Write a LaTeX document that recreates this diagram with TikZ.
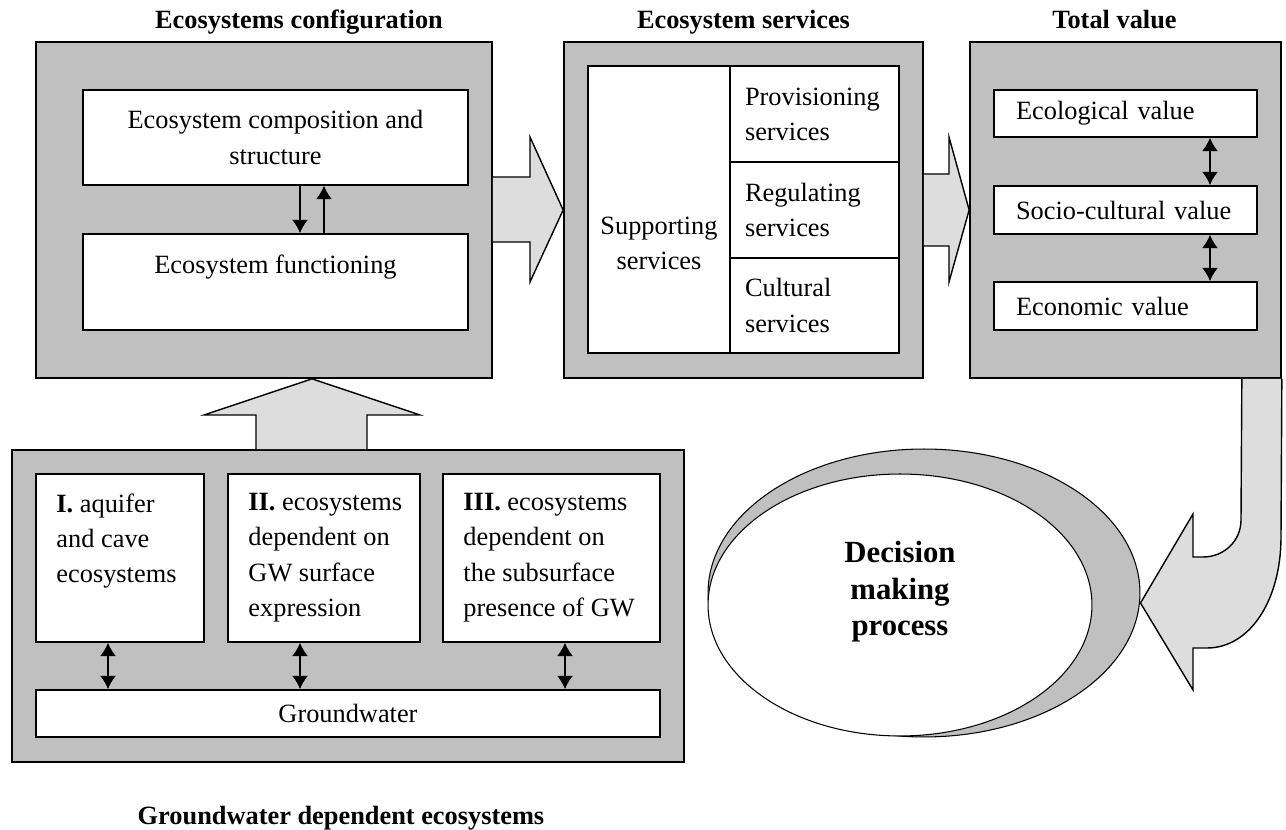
\documentclass[tikz,border=0pt]{standalone}
\usepackage{fontspec}
\setmainfont{Liberation Serif}
\usetikzlibrary{arrows.meta,shapes.geometric,calc}
\definecolor{panelgray}{RGB}{192,192,192}
\definecolor{arrowgray}{RGB}{221,221,221}
\tikzset{
  panel/.style={draw, line width=1pt, fill=panelgray, inner sep=0pt},
  wbox/.style={draw, line width=1pt, fill=white, align=center, inner sep=0pt},
  lbox/.style={wbox, align=left},
  gtext/.style={anchor=north west, align=left, inner sep=0pt},
  headline/.style={font=\fontsize{15}{20}\selectfont\bfseries, anchor=base},
  barrow/.style={draw, line width=.8pt, fill=arrowgray, line join=miter},
  link/.style={<->, line width=.8pt},
}

\begin{document}
\begin{tikzpicture}[x=.02cm,y=-.02cm,>={Latex[length=7.5pt,width=9pt]},
                    font=\fontsize{15}{20}\selectfont]
    \useasboundingbox (0,0) rectangle (1286,830);

    % ecosystems configuration
    \node [panel, minimum width=9.12cm, minimum height=6.72cm] (eco) at (264,210) {};
    \node [wbox, minimum width=7.7cm, minimum height=1.9cm] (ecs) at (275.5,137.5)
          {Ecosystem composition and\\structure};
    \node [wbox, minimum width=7.7cm, minimum height=1.92cm] (efn) at (275.5,282)
          {Ecosystem functioning\\~};
    \draw [->,line width=.8pt] ([xshift=.49cm]ecs.south) -- ([xshift=.49cm]efn.north);
    \draw [<-,line width=.8pt] ([xshift=.97cm]ecs.south) -- ([xshift=.97cm]efn.north);

    % ecosystem services
    \node [panel, minimum width=7.18cm, minimum height=6.72cm] (srv) at (743.5,210) {};
    \node [wbox, minimum width=2.84cm, minimum height=5.74cm] (sup) at (659,209.5) {};
    \node [align=center] (supt) at (659,243) {Supporting\\services};
    \node [lbox, text width=2.78cm, inner xsep=.3cm, minimum height=1.92cm] (prv)
          at (814.5,114) {Provisioning\\services};
    \node [lbox, text width=2.78cm, inner xsep=.3cm, minimum height=1.92cm] (reg)
          at (814.5,210) {Regulating\\services};
    \node [lbox, text width=2.78cm, inner xsep=.3cm, minimum height=1.9cm] (cul)
          at (814.5,305.5) {Cultural\\services};

    % total value
    \node [panel, minimum width=6.22cm, minimum height=6.72cm] (tv) at (1125.5,210) {};
    \node [lbox, text width=4.38cm, inner xsep=.44cm, minimum height=.94cm] (eclv)
          at (1125.5,113.5) {Ecological value};
    \node [lbox, text width=4.38cm, inner xsep=.44cm, minimum height=.96cm] (socv)
          at (1125.5,210) {Socio-cultural value};
    \node [lbox, text width=4.38cm, inner xsep=.44cm, minimum height=.96cm] (ecov)
          at (1125.5,306) {Economic value};
    \draw [link] ([xshift=1.69cm]eclv.south) -- ([xshift=1.69cm]socv.north);
    \draw [link] ([xshift=1.69cm]socv.south) -- ([xshift=1.69cm]ecov.north);

    % groundwater dependent ecosystems
    \node [panel, minimum width=13.44cm, minimum height=6.24cm] (gde) at (348,606) {};
    \node [wbox, minimum width=3.36cm, minimum height=3.36cm] (g1) at (120,558) {};
    \node [wbox, minimum width=3.84cm, minimum height=3.36cm] (g2) at (324,558) {};
    \node [wbox, minimum width=4.34cm, minimum height=3.36cm] (g3) at (551.5,558) {};
    \node [gtext] (g1t) at ($(g1.north west)+(21,20)$)
          {\textbf{I.} aquifer\\and cave\\ecosystems};
    \node [gtext] (g2t) at ($(g2.north west)+(21,20)$)
          {\textbf{II.} ecosystems\\dependent on\\GW surface\\expression};
    \node [gtext] (g3t) at ($(g3.north west)+(21,20)$)
          {\textbf{III.} ecosystems\\dependent on\\the subsurface\\presence of GW};
    \node [wbox, minimum width=12.48cm, minimum height=.94cm] (gw) at (348,713.5) {Groundwater};
    \draw [link] ([xshift=-.24cm]g1.south) -- ([xshift=-.24cm]g1.south |- gw.north);
    \draw [link] ([xshift=-.48cm]g2.south) -- ([xshift=-.48cm]g2.south |- gw.north);
    \draw [link] ([xshift=.27cm]g3.south) -- ([xshift=.27cm]g3.south |- gw.north);

    % decision making
    \node [ellipse, draw, line width=.6pt, fill=panelgray, inner sep=0pt,
           minimum width=8.64cm, minimum height=5.76cm] (dmpo) at (924,593) {};
    \node [ellipse, draw, line width=.6pt, fill=white, inner sep=0pt,
           minimum width=7.68cm, minimum height=5.24cm] (dmp) at (900,605) {};
    \node [align=center, font=\fontsize{17.5}{20.8}\selectfont\bfseries] (dmpt)
          at (900,592) {Decision\\making\\process};

    % block arrows
    \draw [barrow] ($(eco.east)+(0,-33)$) -- (530,177) -- (530,137) -- (srv.west)
                   -- (530,282) -- (530,242) -- ($(eco.east)+(0,32)$);
    \draw [barrow] ($(srv.east)+(0,-36)$) -- (949,174) -- (949,137) -- (tv.west)
                   -- (949,282) -- (949,246) -- ($(srv.east)+(0,36)$);
    \draw [barrow] ($(gde.north)+(-92,0)$) -- (256,415) -- (204,415) -- ($(eco.south)+(48,0)$)
                   -- (420,415) -- (367,415) -- ($(gde.north)+(19,0)$);
    \draw [barrow] ($(tv.south east)+(-40,0)$) -- (1241,520)
                   .. controls (1241,541) and (1224,557) .. (1203,557) -- (1193,557)
                   -- (1193,514) -- ($(dmpo.east)+(0,10)$) -- (1193,690) -- (1193,648)
                   -- (1207,648) .. controls (1250,648) and (1281,600) .. (1281,537)
                   -- (tv.south east);

    % titles
    \node [headline] (ecot) at (299,29) {Ecosystems configuration};
    \node [headline] (srvt) at (743.5,29) {Ecosystem services};
    \node [headline] (tvt) at (1114.5,29) {Total value};
    \node [headline] (gdet) at (341,825) {Groundwater dependent ecosystems};
\end{tikzpicture}
\end{document}
